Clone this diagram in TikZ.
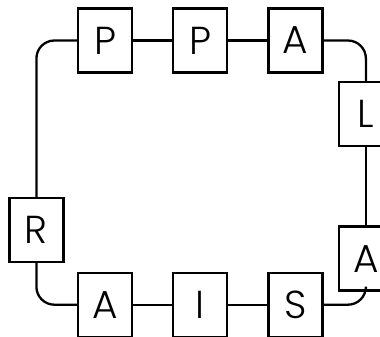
\documentclass[tikz,border=0pt]{standalone}
\usepackage{fontspec}
\setmainfont{Poppins Light}
\usepackage{tikz}
\usetikzlibrary{positioning}

\begin{document}
\begin{tikzpicture}[x=1pt,y=1pt,
    b/.style={draw,line width=2.3pt,fill=white,minimum width=54pt,minimum height=64pt,
      inner sep=0,font=\fontsize{39}{39}\selectfont},
    w/.style={line width=2.3pt,rounded corners=18pt}]
    \useasboundingbox (0,0) rectangle (380,-337);
    \node[b] (p1) at (105,-40.5) {P};
    \node[b,right=39pt of p1] (p2) {P};
    \node[b,right=39pt of p2] (a1) {A};
    \node[b,below right=7.5pt and 14pt of a1] (l) {L};
    \node[b,below=78pt of l] (a2) {A};
    \node[b] (a3) at (105,-304.7) {A};
    \node[b,right=39pt of a3] (i) {I};
    \node[b,right=39pt of i] (s) {S};
    \node[b,above left=8.4pt and 12.3pt of a3] (r) {R};
    \draw[w] (p1.east) -- (p2.west);
    \draw[w] (p2.east) -- (a1.west);
    \draw[w] (a1.east) -| (l.north);
    \draw[w] (l.south) -- (a2.north);
    \draw[w] (a2.south) |- (s.east);
    \draw[w] (s.west) -- (i.east);
    \draw[w] (i.west) -- (a3.east);
    \draw[w] (a3.west) -| (r.south);
    \draw[w] (r.north) |- (p1.west);
  \end{tikzpicture}
\end{document}
